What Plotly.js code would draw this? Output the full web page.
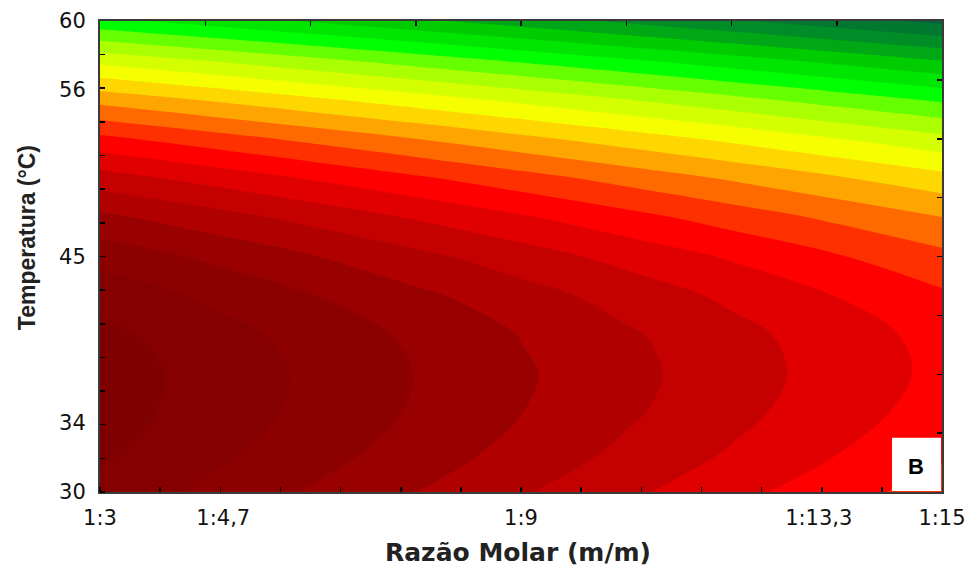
<!DOCTYPE html>
<html>
<head>
<meta charset="utf-8">
<script src="https://cdn.plot.ly/plotly-3.0.1.min.js"></script>
<style>
  html, body { margin: 0; padding: 0; background: #ffffff; }
  #chart { width: 974px; height: 572px; }
</style>
</head>
<body>
<div id="chart"></div>
<script>
// Coded levels of the design (rotatable CCD, alpha = 1.414)
const razaoCoded = [-1.414, -1.061, -0.707, -0.354, 0, 0.354, 0.707, 1.061, 1.414];
const tempCoded = [-1.414, -1.178, -0.943, -0.707, -0.471, -0.236, 0, 0.236, 0.471, 0.707, 0.943, 1.178, 1.414];

// Response (in contour-band units), rows = temperatura, cols = razão
const resposta = [
  [1.30, 2.20, 3.09, 3.99, 4.89, 5.78, 6.68, 7.57, 8.47],
  [0.81, 1.69, 2.57, 3.45, 4.33, 5.21, 6.09, 6.97, 7.84],
  [0.54, 1.40, 2.26, 3.12, 3.99, 4.85, 5.71, 6.58, 7.44],
  [0.48, 1.32, 2.17, 3.02, 3.86, 4.71, 5.55, 6.40, 7.24],
  [0.71, 1.54, 2.37, 3.20, 4.03, 4.86, 5.68, 6.51, 7.34],
  [1.33, 2.15, 2.96, 3.77, 4.58, 5.40, 6.21, 7.02, 7.83],
  [2.35, 3.15, 3.94, 4.74, 5.53, 6.33, 7.12, 7.92, 8.72],
  [3.76, 4.54, 5.32, 6.10, 6.88, 7.66, 8.44, 9.22, 9.99],
  [5.56, 6.32, 7.09, 7.85, 8.61, 9.37, 10.13, 10.90, 11.66],
  [7.76, 8.50, 9.25, 9.99, 10.74, 11.49, 12.23, 12.98, 13.72],
  [10.35, 11.08, 11.81, 12.53, 13.26, 13.99, 14.72, 15.45, 16.18],
  [13.32, 14.03, 14.75, 15.46, 16.17, 16.88, 17.59, 18.31, 19.02],
  [16.70, 17.39, 18.09, 18.78, 19.48, 20.18, 20.87, 21.57, 22.26]
];

const razaoTickVals = [-1.414, -1, 0, 1, 1.414];
const razaoTickText = ['1:3', '1:4,7', '1:9', '1:13,3', '1:15'];
const tempTickVals = [-1.414, -1, 0, 1, 1.414];
const tempTickText = ['30', '34', '45', '56', '60'];

const bandColors = [
  '#7e0000', '#850000', '#8c0000', '#990000', '#b00000', '#c40000', '#e00000',
  '#ff0000', '#ff3000', '#ff6a00', '#ffa500', '#ffd700', '#f5ff00', '#d4ff00',
  '#aaff00', '#66ff00', '#00ff00', '#00e600', '#00cc00', '#00a815', '#008c26',
  '#007830', '#00653a'
];

const colorscale = bandColors.map((c, i) => [i / (bandColors.length - 1), c]);

const contour = {
  type: 'contour',
  x: razaoCoded,
  y: tempCoded,
  z: resposta,
  autocontour: false,
  contours: { start: 1, end: bandColors.length - 1, size: 1, coloring: 'fill', showlines: false },
  line: { width: 0 },
  colorscale: colorscale,
  showscale: false,
  hoverinfo: 'skip'
};

const dummy = {
  type: 'scatter', x: [0], y: [0], xaxis: 'x2', yaxis: 'y2',
  mode: 'markers', marker: { opacity: 0 }, showlegend: false, hoverinfo: 'skip'
};

const R = [-1.414, 1.414];
const tickFont = { family: 'DejaVu Sans, sans-serif', size: 21, color: '#111' };

const layout = {
  width: 974, height: 572,
  margin: { l: 100, r: 32, t: 21, b: 80 },
  paper_bgcolor: '#ffffff', plot_bgcolor: '#ffffff',
  showlegend: false,
  xaxis: {
    range: R, tickmode: 'array', tickvals: razaoTickVals, ticktext: razaoTickText,
    ticks: '', ticklabelstandoff: 6, tickfont: tickFont,
    showline: true, linecolor: '#3a3a3a', linewidth: 2, mirror: true,
    showgrid: false, zeroline: false,
    minor: { tickmode: 'linear', tick0: -1.414, dtick: 0.20203, ticks: 'inside', ticklen: 5, tickwidth: 1.5, tickcolor: '#000', showgrid: false }
  },
  yaxis: {
    range: R, tickmode: 'array', tickvals: tempTickVals, ticktext: tempTickText,
    ticks: '', ticklabelstandoff: 8, tickfont: tickFont,
    showline: true, linecolor: '#3a3a3a', linewidth: 2, mirror: true,
    showgrid: false, zeroline: false,
    minor: { tickmode: 'linear', tick0: -1.414, dtick: 0.20203, ticks: 'inside', ticklen: 5, tickwidth: 1.5, tickcolor: '#000', showgrid: false }
  },
  xaxis2: {
    range: R, overlaying: 'x', side: 'top', anchor: 'y',
    tickmode: 'linear', tick0: -1.414, dtick: 0.3535, ticks: 'inside', ticklen: 5, tickwidth: 1.5, tickcolor: '#000',
    showticklabels: false, showgrid: false, zeroline: false, showline: false
  },
  yaxis2: {
    range: R, overlaying: 'y', side: 'right', anchor: 'x',
    tickmode: 'linear', tick0: -1.414, dtick: 0.3535, ticks: 'inside', ticklen: 5, tickwidth: 1.5, tickcolor: '#000',
    showticklabels: false, showgrid: false, zeroline: false, showline: false
  },
  shapes: [
    { type: 'rect', xref: 'paper', yref: 'paper', x0: 0.9406, x1: 0.9988, y0: 0.002, y1: 0.115,
      fillcolor: '#ffffff', line: { width: 0 }, layer: 'above' }
  ],
  annotations: [
    { text: 'B', xref: 'paper', yref: 'paper', x: 0.9697, y: 0.055, showarrow: false,
      xanchor: 'center', yanchor: 'middle',
      font: { family: 'Liberation Sans, Arial, sans-serif', size: 22, color: '#000', weight: 'bold' } },
    { text: '<b>Razão Molar (m/m)</b>', xref: 'paper', yref: 'paper', x: 0.4964, y: -0.1274,
      showarrow: false, xanchor: 'center', yanchor: 'middle',
      font: { family: 'DejaVu Sans, sans-serif', size: 25, color: '#222' } },
    { text: '<b>Temperatura (°C)</b>', xref: 'paper', yref: 'paper', x: -0.0867, y: 0.541,
      showarrow: false, xanchor: 'center', yanchor: 'middle', textangle: -90,
      font: { family: 'Liberation Sans, Arial, sans-serif', size: 23, color: '#222' } }
  ]
};

Plotly.newPlot('chart', [contour, dummy], layout, { staticPlot: true, displayModeBar: false });
</script>
</body>
</html>
